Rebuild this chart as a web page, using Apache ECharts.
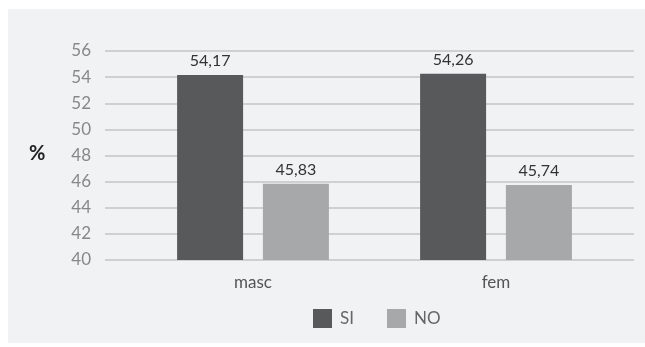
<!DOCTYPE html>
<html>
<head>
<meta charset="utf-8">
<script src="https://cdn.jsdelivr.net/npm/echarts@6/dist/echarts.min.js"></script>
<style>
html,body{margin:0;padding:0;background:#ffffff;}
#chart{width:645px;height:347px;}
</style>
</head>
<body>
<div id="chart"></div>
<script>
var categories = ['masc', 'fem'];
var seriesNames = ['SI', 'NO'];
var siValues = [54.17, 54.26];
var noValues = [45.83, 45.74];
var yTicks = [40, 42, 44, 46, 48, 50, 52, 54, 56];
var yTitle = '%';

var chart = echarts.init(document.getElementById('chart'), null, {renderer: 'canvas'});
var FONT = 'Lato, "Noto Sans", sans-serif';
function fmt(p) { return String(p.value).replace('.', ','); }

var option = {
  backgroundColor: '#ffffff',
  animation: false,
  graphic: [
    {type: 'rect', z: -10, shape: {x: 8, y: 9, width: 637, height: 334}, style: {fill: '#f1f2f4'}},
    {type: 'text', left: 29, top: 144, style: {text: yTitle, font: 'bold 20px ' + FONT, fill: '#222222'}}
  ],
  legend: {
    left: 313, top: 309, padding: 0,
    itemWidth: 19, itemHeight: 19, itemGap: 33,
    icon: 'rect',
    data: seriesNames,
    textStyle: {fontFamily: FONT, fontSize: 17, color: '#666666', padding: [0, 0, 0, 3]}
  },
  grid: [
    {left: 131.5, right: 645 - 617.5, top: 51, bottom: 347 - 260, containLabel: false},
    {left: 105, right: 11, top: 51, bottom: 347 - 260, containLabel: false}
  ],
  xAxis: [
    {type: 'category', gridIndex: 0, data: categories,
     axisLine: {show: false}, axisTick: {show: false},
     axisLabel: {fontFamily: FONT, fontSize: 17, color: '#555555', margin: 14}},
    {type: 'value', gridIndex: 1, min: 0, max: 1, show: false}
  ],
  yAxis: [
    {type: 'value', gridIndex: 0, min: 40, max: 56, interval: 2, show: false},
    {type: 'value', gridIndex: 1, min: yTicks[0], max: yTicks[yTicks.length - 1], interval: 2,
     axisLine: {show: false}, axisTick: {show: false},
     axisLabel: {fontFamily: FONT, fontSize: 17, color: '#888888', margin: 14},
     splitLine: {show: true, lineStyle: {color: '#c4c4c4', width: 1.5}}}
  ],
  series: [
    {name: seriesNames[0], type: 'bar', xAxisIndex: 0, yAxisIndex: 0, data: siValues,
     barWidth: 66, barGap: '30%', z: 5,
     itemStyle: {color: '#58595b'},
     label: {show: true, position: 'top', distance: 6, formatter: fmt,
             fontFamily: FONT, fontSize: 16, color: '#333333'}},
    {name: seriesNames[1], type: 'bar', xAxisIndex: 0, yAxisIndex: 0, data: noValues,
     barWidth: 66, barGap: '30%', z: 5,
     itemStyle: {color: '#a7a8aa'},
     label: {show: true, position: 'top', distance: 6, formatter: fmt,
             fontFamily: FONT, fontSize: 16, color: '#333333'}}
  ]
};
chart.setOption(option);
</script>
</body>
</html>
